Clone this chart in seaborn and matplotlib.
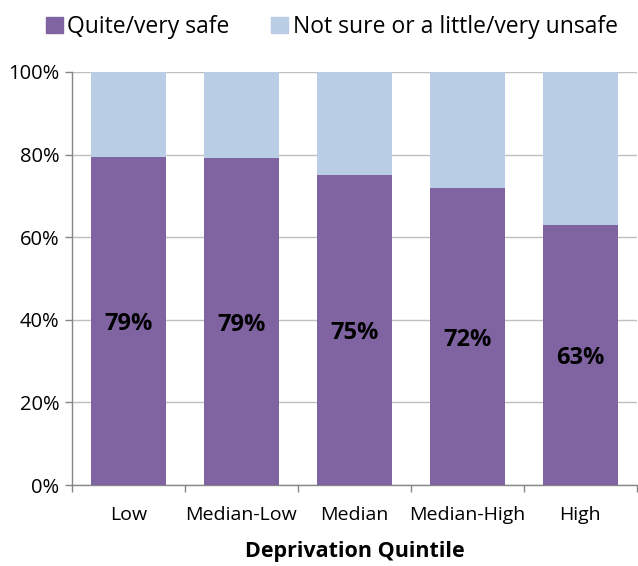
import numpy as np
import pandas as pd
import matplotlib
matplotlib.use("Agg")
import matplotlib.pyplot as plt
import seaborn as sns
from matplotlib.ticker import FuncFormatter, FixedLocator
from matplotlib.patches import Patch

# data
quintiles = ["Low", "Median-Low", "Median", "Median-High", "High"]
safe_pct = [79.4, 79.2, 75.0, 71.8, 62.9]
total_pct = [100, 100, 100, 100, 100]
labels = ["79%", "79%", "75%", "72%", "63%"]

purple = "#8064A2"
lightblue = "#B9CDE5"

sns.set_theme(style="white")
plt.rcParams["font.family"] = ["Open Sans", "DejaVu Sans"]
plt.rcParams["text.color"] = "black"
plt.rcParams["xtick.color"] = "black"
plt.rcParams["ytick.color"] = "black"
plt.rcParams["axes.labelcolor"] = "black"

df = pd.DataFrame({"quintile": quintiles, "safe": safe_pct, "total": total_pct})

fig = plt.figure(figsize=(6.38, 5.66), dpi=100)
ax = fig.add_axes([0.113, 0.143, 0.885, 0.730])

sns.barplot(data=df, x="quintile", y="total", color=lightblue, width=0.66,
            saturation=1, edgecolor="none", linewidth=0, ax=ax, zorder=2)
sns.barplot(data=df, x="quintile", y="safe", color=purple, width=0.66,
            saturation=1, edgecolor="none", linewidth=0, ax=ax, zorder=3)

for i, (v, lab) in enumerate(zip(safe_pct, labels)):
    ax.text(i, v / 2 - 0.8, lab, ha="center", va="center", fontsize=17,
            fontweight="bold", color="black", zorder=4)

ax.set_ylim(0, 100)
ax.set_xlim(-0.5, 4.5)
ax.set_yticks([0, 20, 40, 60, 80, 100])
ax.yaxis.set_major_formatter(FuncFormatter(lambda x, pos: f"{x:.0f}%"))
ax.yaxis.grid(True, color="#BFBFBF", linewidth=1, zorder=0)
ax.set_axisbelow(True)

ax.xaxis.set_minor_locator(FixedLocator(np.arange(-0.5, 5, 1)))
ax.tick_params(axis="x", which="major", length=0, pad=15, labelsize=14, labelcolor="black")
ax.tick_params(axis="x", which="minor", length=5, color="#868686", width=1, bottom=True)
ax.tick_params(axis="y", length=5, color="#868686", width=1, left=True, labelsize=14.5,
               pad=4, labelcolor="black")

for s in ["top", "right"]:
    ax.spines[s].set_visible(False)
for s in ["left", "bottom"]:
    ax.spines[s].set_color("#868686")
    ax.spines[s].set_linewidth(1)

ax.set_ylabel("")
ax.set_xlabel("Deprivation Quintile", fontsize=15.5, fontweight="bold", labelpad=12,
              color="black")

handles = [Patch(color=purple, label="Quite/very safe"),
           Patch(color=lightblue, label="Not sure or a little/very unsafe")]
fig.legend(handles=handles, loc="upper center", bbox_to_anchor=(0.52, 1.01), ncol=2,
           frameon=False, fontsize=16.5, handlelength=0.75, handleheight=0.75,
           handletextpad=0.2, columnspacing=1.8, labelcolor="black")

fig.savefig("out.png", dpi=100)
